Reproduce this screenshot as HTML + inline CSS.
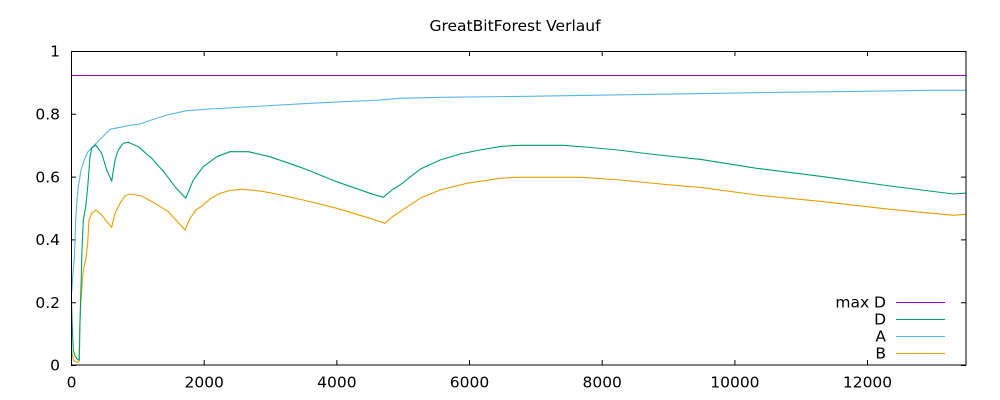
<!DOCTYPE html>
<html>
<head>
<meta charset="utf-8">
<style>
html,body{margin:0;padding:0;background:#fff;}
svg{display:block;}
text{font-family:"DejaVu Sans","Liberation Sans",sans-serif;font-size:15.5px;fill:#000;}
</style>
</head>
<body>
<svg width="1000" height="400" viewBox="0 0 1000 400" xmlns="http://www.w3.org/2000/svg">
<rect x="0" y="0" width="1000" height="400" fill="#fff"/>
<text x="515" y="31" text-anchor="middle">GreatBitForest Verlauf</text>

<!-- ticks -->
<g stroke="#000" stroke-width="1" fill="none">
<path d="M71,365.5h5 M71,302.7h5 M71,239.9h5 M71,177.1h5 M71,114.3h5 M71,51.5h5"/>
<path d="M966,365.5h-5 M966,302.7h-5 M966,239.9h-5 M966,177.1h-5 M966,114.3h-5 M966,51.5h-5"/>
<path d="M71.5,365v-5 M204.2,365v-5 M336.9,365v-5 M469.5,365v-5 M602.2,365v-5 M734.9,365v-5 M867.5,365v-5"/>
<path d="M71.5,51v5 M204.2,51v5 M336.9,51v5 M469.5,51v5 M602.2,51v5 M734.9,51v5 M867.5,51v5"/>
</g>

<!-- y labels -->
<g text-anchor="end">
<text x="60" y="370.6">0</text>
<text x="60" y="307.8">0.2</text>
<text x="60" y="245">0.4</text>
<text x="60" y="182.3">0.6</text>
<text x="60" y="119.5">0.8</text>
<text x="60" y="56.7">1</text>
</g>
<!-- x labels -->
<g text-anchor="middle">
<text x="71.5" y="387.5">0</text>
<text x="204.2" y="387.5">2000</text>
<text x="336.9" y="387.5">4000</text>
<text x="469.5" y="387.5">6000</text>
<text x="602.2" y="387.5">8000</text>
<text x="734.9" y="387.5">10000</text>
<text x="867.5" y="387.5">12000</text>
</g>

<!-- series -->
<g fill="none" stroke-width="1.1" stroke-linejoin="round">
<!-- max D -->
<path stroke="#9400d3" d="M71.5,75.5H966"/>
<!-- B -->
<polyline stroke="#e69f00" points="71.5,350 73.3,360 76.7,362.3 79,361.7 79.7,327 81,300 83.3,270 85.7,260 87.7,243 89,220 91.7,213.3 95.7,210 101.7,215 106.7,221.7 111.7,227.3 115,213.3 120,203.3 125,196 130,194 141.7,196 155,203.3 168.3,211.7 175,219 185,230 190,218.3 196,210 203.3,205 210,199 220,193.3 230,190.5 241.7,189.3 256,190.5 270,192.7 303.3,200 336.7,208.3 370,218.3 385,223.3 392,217 400,211.7 420,198.3 440,190 466.7,183.3 500,178.3 515,177.3 581.7,177.3 620,180 650,183 690,186.7 700,187.3 756.7,195 823.3,201.7 890,209.3 953.3,215.3 966,214.3"/>
<!-- A -->
<polyline stroke="#56b4e9" points="71.7,293 72.8,275 74.3,260 75.7,220 77,200 78.3,187 81,170 84.3,160 87.7,152 110,129.3 131.7,125 140,124 148.3,121 166.7,115 186.7,110.7 210,109 263,106 310,103.3 380,100 400,98.3 442,97.3 527,96.3 590,95.3 653,94.3 716.7,93.3 780,92.3 863.3,91.3 927,90.3 966,90.3"/>
<!-- D -->
<polyline stroke="#009e73" points="71.5,300 72,320 73.3,350 75,356 76.7,358.3 78.5,360 79.3,360 80,323 81,287 82,250 83.3,220 85.7,207 87.7,187 90,157 91.7,148 95.7,145 101.7,153.3 106.7,170 111.7,181 115,160 118.3,150 123.3,143.3 128.3,142.3 138.3,146.7 151.7,158.3 165,173.3 175,186.7 185.7,198.3 193.3,180 203.3,166.7 216.7,156.7 230,151.7 248.3,151.7 270,156.7 303.3,168.3 336.7,181.7 370,193.3 383.3,197.3 392,190 400,185 420,169.3 440,160 460,154 480,150 501.7,146.3 520,145.3 563,145.3 585,147 618,150 650,154 690,158.3 700,159.3 756.7,168.3 823.3,176.7 890,186 953.3,194 963,193.3 966,193.3"/>
</g>

<!-- border -->
<rect x="71.5" y="51.5" width="894.5" height="313.5" fill="none" stroke="#000" stroke-width="1"/>

<!-- legend -->
<g text-anchor="end">
<text x="886" y="307.7">max D</text>
<text x="886" y="324.7">D</text>
<text x="886" y="341.7">A</text>
<text x="886" y="358.7">B</text>
</g>
<g stroke-width="1.1">
<path stroke="#9400d3" d="M896,302.5H945"/>
<path stroke="#009e73" d="M896,319.5H945"/>
<path stroke="#56b4e9" d="M896,336.5H945"/>
<path stroke="#e69f00" d="M896,353.5H945"/>
</g>
</svg>
</body>
</html>
